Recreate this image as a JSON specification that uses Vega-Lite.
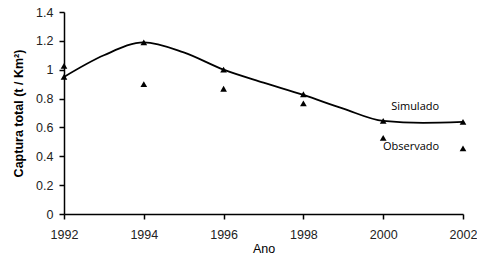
{
  "$schema": "https://vega.github.io/schema/vega-lite/v6.json",
  "width": 399,
  "height": 202,
  "autosize": {"type": "none"},
  "padding": {"left": 64, "top": 12, "right": 14, "bottom": 43},
  "background": "white",
  "config": {
    "view": {"stroke": null},
    "font": "Liberation Sans",
    "axis": {
      "grid": false,
      "domainColor": "black",
      "domainWidth": 1.5,
      "tickColor": "black",
      "tickWidth": 1.5,
      "tickSize": 5,
      "labelFont": "Liberation Sans",
      "labelFontSize": 12.5,
      "labelColor": "#222",
      "labelOverlap": false,
      "labelFlush": false,
      "titleFont": "Liberation Sans",
      "titleFontSize": 12.5,
      "titleColor": "black"
    }
  },
  "datasets": {
    "sim": [
      {"ano": 1992, "v": 0.95},
      {"ano": 1993, "v": 1.1},
      {"ano": 1994, "v": 1.19},
      {"ano": 1995, "v": 1.12},
      {"ano": 1996, "v": 1.0},
      {"ano": 1997, "v": 0.91},
      {"ano": 1998, "v": 0.825},
      {"ano": 1999, "v": 0.73},
      {"ano": 2000, "v": 0.645},
      {"ano": 2001, "v": 0.632},
      {"ano": 2002, "v": 0.638}
    ],
    "pts": [
      {"ano": 1992, "v": 0.95, "serie": "Simulado"},
      {"ano": 1994, "v": 1.19, "serie": "Simulado"},
      {"ano": 1996, "v": 1.0, "serie": "Simulado"},
      {"ano": 1998, "v": 0.83, "serie": "Simulado"},
      {"ano": 2000, "v": 0.645, "serie": "Simulado"},
      {"ano": 2002, "v": 0.638, "serie": "Simulado"},
      {"ano": 1992, "v": 1.026, "serie": "Observado"},
      {"ano": 1994, "v": 0.9, "serie": "Observado"},
      {"ano": 1996, "v": 0.868, "serie": "Observado"},
      {"ano": 1998, "v": 0.767, "serie": "Observado"},
      {"ano": 2000, "v": 0.527, "serie": "Observado"},
      {"ano": 2002, "v": 0.455, "serie": "Observado"}
    ],
    "labels": [
      {"ano": 2000.8, "v": 0.74, "txt": "Simulado"},
      {"ano": 2000.7, "v": 0.465, "txt": "Observado"}
    ]
  },
  "layer": [
    {
      "data": {"name": "sim"},
      "mark": {"type": "line", "interpolate": "monotone", "color": "black", "strokeWidth": 1.8},
      "encoding": {
        "x": {
          "field": "ano", "type": "quantitative",
          "scale": {"domain": [1992, 2002], "nice": false, "zero": false},
          "axis": {"values": [1992, 1994, 1996, 1998, 2000, 2002], "format": "d", "title": "Ano", "titleFontWeight": "normal", "titlePadding": 2, "labelPadding": 9, "labelOverlap": false}
        },
        "y": {
          "field": "v", "type": "quantitative",
          "scale": {"domain": [0, 1.4], "nice": false},
          "axis": {"tickCount": 7, "labelExpr": "'' + round(datum.value * 10) / 10", "title": "Captura total (t / Km²)", "titleFontWeight": "bold", "titlePadding": 10, "labelPadding": 6, "labelOverlap": false, "labelBound": false}
        }
      }
    },
    {
      "data": {"name": "pts"},
      "mark": {"type": "point", "shape": "triangle-up", "filled": true, "color": "black", "size": 45, "opacity": 1},
      "encoding": {
        "x": {"field": "ano", "type": "quantitative"},
        "y": {"field": "v", "type": "quantitative"}
      }
    },
    {
      "data": {"name": "labels"},
      "mark": {"type": "text", "align": "center", "baseline": "middle", "font": "Open Sans", "fontSize": 11, "color": "black"},
      "encoding": {
        "x": {"field": "ano", "type": "quantitative"},
        "y": {"field": "v", "type": "quantitative"},
        "text": {"field": "txt"}
      }
    }
  ]
}
